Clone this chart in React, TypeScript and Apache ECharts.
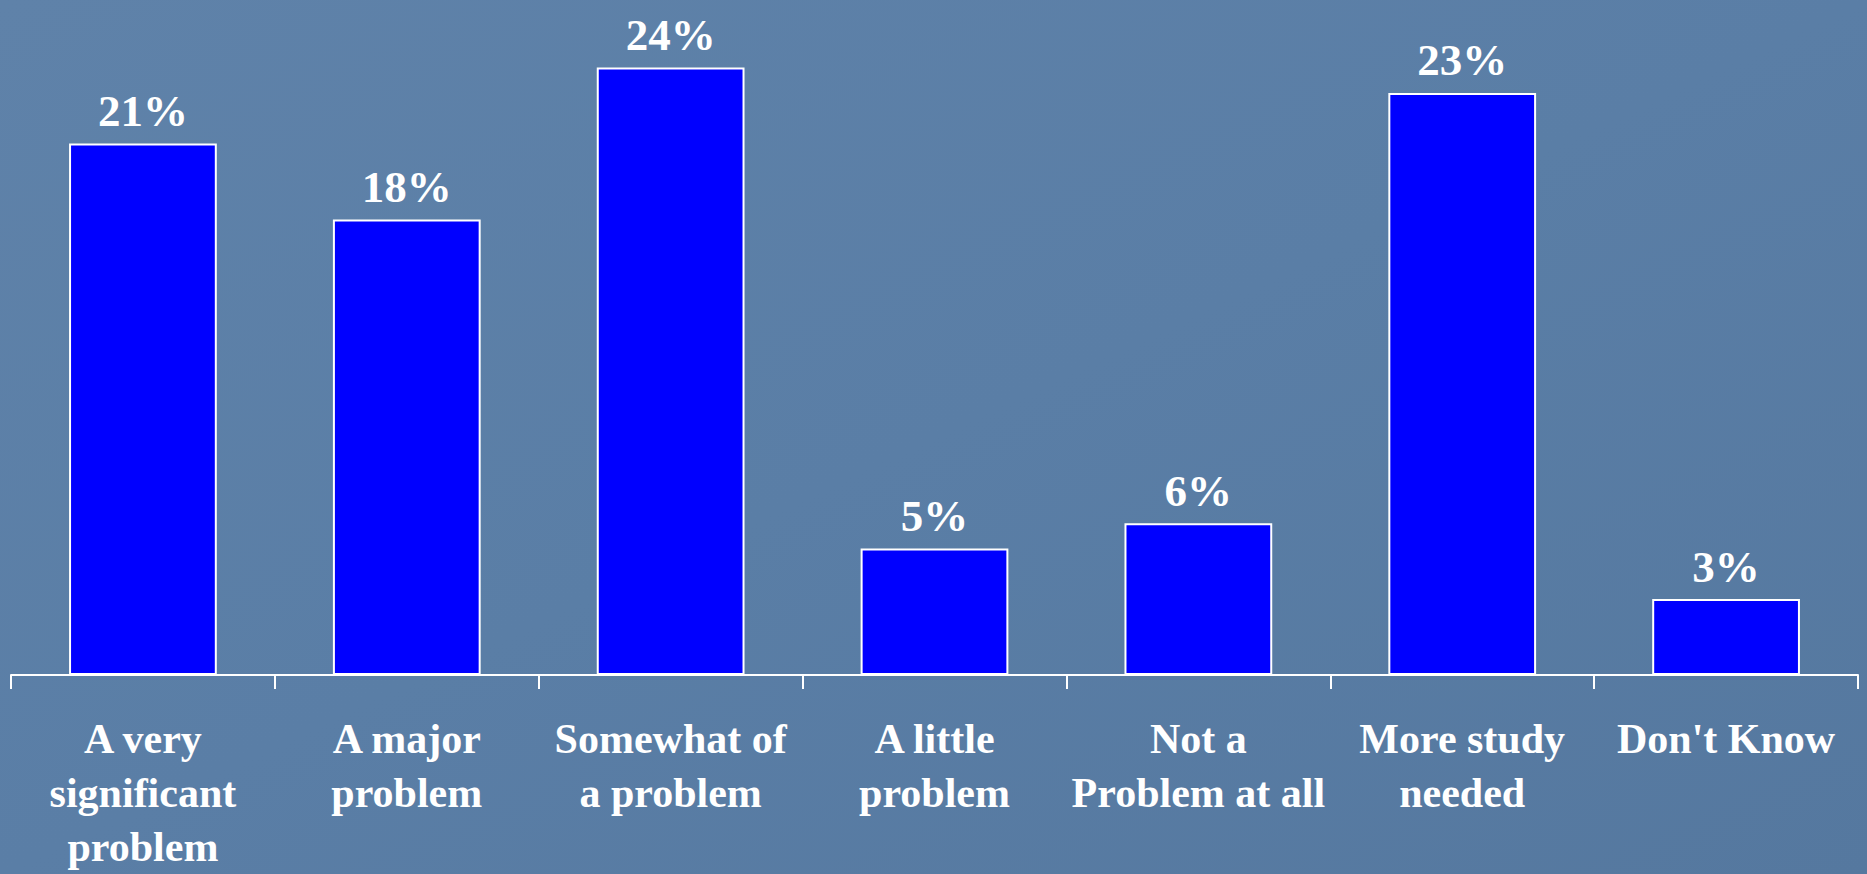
import React, { useEffect, useRef } from "react";
import * as echarts from "echarts";

const categories: string[] = [
  "A very\nsignificant\nproblem",
  "A major\nproblem",
  "Somewhat of\na problem",
  "A little\nproblem",
  "Not a\nProblem at all",
  "More study\nneeded",
  "Don't Know",
];
const values: number[] = [21, 18, 24, 5, 6, 23, 3];

export default function App() {
  const ref = useRef<HTMLDivElement>(null);
  useEffect(() => {
    document.body.style.margin = "0";
    const chart = echarts.init(ref.current!, undefined, { renderer: "svg" });
    const font = "'Liberation Serif', 'Times New Roman', serif";
    chart.setOption({
      animation: false,
      backgroundColor: {
        type: "linear",
        x: 0,
        y: 0,
        x2: 1,
        y2: 1,
        colorStops: [
          { offset: 0, color: "#5f82a9" },
          { offset: 0.5, color: "#5a7ea6" },
          { offset: 1, color: "#55789f" },
        ],
      },
      grid: { left: 11, right: 9, top: 17, bottom: 199, containLabel: false },
      xAxis: {
        type: "category",
        data: categories,
        axisLine: { lineStyle: { color: "#ffffff", width: 2 } },
        axisTick: { show: true, length: 14, lineStyle: { color: "#ffffff", width: 2 } },
        axisLabel: {
          interval: 0,
          margin: 37,
          color: "#ffffff",
          fontFamily: font,
          fontWeight: "bold",
          fontSize: 42,
          lineHeight: 54,
        },
      },
      yAxis: {
        type: "value",
        min: 0,
        max: 26,
        show: false,
        splitLine: { show: false },
      },
      series: [
        {
          type: "bar",
          data: values,
          barWidth: "56%",
          itemStyle: { color: "#0000ff", borderColor: "#ffffff", borderWidth: 2 },
          label: {
            show: true,
            position: "top",
            distance: 10,
            formatter: "{c}%",
            color: "#ffffff",
            fontFamily: font,
            fontWeight: "bold",
            fontSize: 45,
          },
        },
      ],
    });
    return () => chart.dispose();
  }, []);
  return <div ref={ref} style={{ position: "fixed", left: 0, top: 0, width: 1867, height: 874 }} />;
}
